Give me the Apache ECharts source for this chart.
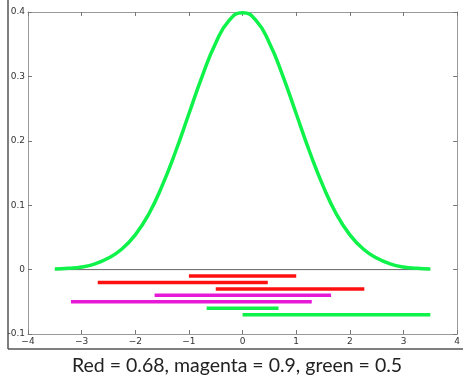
<!DOCTYPE html>
<html>
<head>
<meta charset="utf-8">
<script src="https://cdn.jsdelivr.net/npm/echarts@6/dist/echarts.min.js"></script>
<style>
  html, body { margin: 0; padding: 0; background: #fff; }
  #chart { width: 463px; height: 377px; }
</style>
</head>
<body>
<div id="chart"></div>
<script>
// bell curve
const curveX = [-3.5, -3.25, -3, -2.75, -2.5, -2.25, -2, -1.75, -1.5, -1.25, -1, -0.75, -0.5, -0.25, 0,
    0.25, 0.5, 0.75, 1, 1.25, 1.5, 1.75, 2, 2.25, 2.5, 2.75, 3, 3.25, 3.5];
const curveY = [0.001, 0.002, 0.004, 0.009, 0.018, 0.032, 0.054, 0.086, 0.130, 0.183, 0.242, 0.301, 0.352, 0.387, 0.399,
    0.387, 0.352, 0.301, 0.242, 0.183, 0.130, 0.086, 0.054, 0.032, 0.018, 0.009, 0.004, 0.002, 0.001];

const baseline = [[-3.5, 0], [3.5, 0]];

// intervals: [from, to, level]
const redIntervals = [[-1.0, 1.0, -0.01], [-2.7, 0.47, -0.02], [-0.5, 2.27, -0.03]];
const magentaIntervals = [[-1.64, 1.65, -0.04], [-3.2, 1.29, -0.05]];
const greenIntervals = [[-0.67, 0.67, -0.06], [0.0, 3.5, -0.07]];

const xTicks = [-4, -3, -2, -1, 0, 1, 2, 3, 4];
const yTicks = [-0.1, 0, 0.1, 0.2, 0.3, 0.4];

const caption = "Red = 0.68, magenta = 0.9, green = 0.5";

const GREEN = "#0ef24a";
const RED = "#ff1010";
const MAGENTA = "#e619d6";

const chart = echarts.init(document.getElementById("chart"), null, { renderer: "canvas" });

const fmtMinus = (v) => String(v).replace("-", "\u2212");

const intervalSeries = (list, color) =>
    list.map((iv) => ({
        type: "line",
        data: [[iv[0], iv[2]], [iv[1], iv[2]]],
        symbol: "none",
        lineStyle: { color: color, width: 3.5, cap: "butt" },
        silent: true,
        z: 3,
    }));

const tickStyle = { show: true, inside: true, length: 4, lineStyle: { color: "#777" } };
const axisLine = { show: true, onZero: false, lineStyle: { color: "#999", width: 1 } };

const xAxisBase = {
    type: "value",
    min: xTicks[0],
    max: xTicks[xTicks.length - 1],
    interval: 1,
    axisLine: axisLine,
    axisTick: tickStyle,
    splitLine: { show: false },
};
const yAxisBase = {
    type: "value",
    min: yTicks[0],
    max: yTicks[yTicks.length - 1],
    interval: 0.1,
    axisLine: axisLine,
    axisTick: tickStyle,
    splitLine: { show: false },
};

chart.setOption({
    animation: false,
    textStyle: { fontFamily: "DejaVu Sans" },
    grid: { left: 28, right: 5, top: 12, bottom: 43 },
    xAxis: [
        { ...xAxisBase, axisLabel: { fontSize: 9, color: "#333", margin: 3, formatter: fmtMinus } },
        { ...xAxisBase, position: "top", axisLabel: { show: false } },
    ],
    yAxis: [
        {
            ...yAxisBase,
            axisLabel: {
                fontSize: 9, color: "#333", margin: 3,
                formatter: (v) => String(Math.round(v * 10) / 10),
            },
        },
        { ...yAxisBase, position: "right", axisLabel: { show: false } },
    ],
    series: [
        {
            type: "line",
            data: baseline,
            symbol: "none",
            lineStyle: { color: "#666", width: 1 },
            silent: true,
            z: 2,
        },
        {
            type: "line",
            data: curveX.map((x, i) => [x, curveY[i]]),
            smooth: 0.5,
            symbol: "none",
            lineStyle: { color: GREEN, width: 3.5 },
            silent: true,
            z: 4,
        },
        ...intervalSeries(redIntervals, RED),
        ...intervalSeries(magentaIntervals, MAGENTA),
        ...intervalSeries(greenIntervals, GREEN),
    ],
    graphic: [
        {
            type: "line",
            shape: { x1: 8, y1: 0, x2: 8, y2: 349 },
            style: { stroke: "#555", lineWidth: 1.5 },
        },
        {
            type: "line",
            shape: { x1: 8, y1: 349, x2: 463, y2: 349 },
            style: { stroke: "#555", lineWidth: 1.5 },
        },
        {
            type: "text",
            x: 237,
            y: 356,
            style: { text: caption, font: "19.5px Lato", fill: "#222", align: "center", verticalAlign: "top" },
        },
    ],
});
</script>
</body>
</html>
